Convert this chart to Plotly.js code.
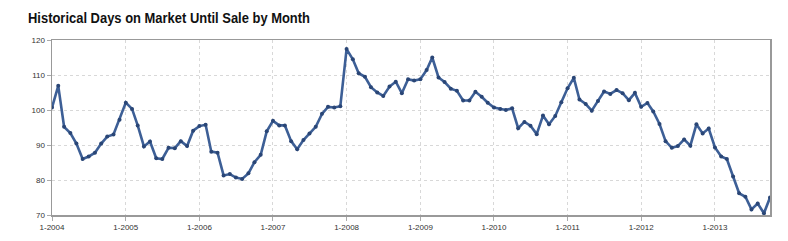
<!DOCTYPE html>
<html><head><meta charset="utf-8">
<script src="https://cdn.plot.ly/plotly-3.0.1.min.js"></script>
<style>html,body{margin:0;padding:0;background:#fff;}#chart{width:788px;height:241px;}</style>
</head><body><div id="chart"></div>
<script>
const startYear = 2004;
const daysOnMarket = [
 100.7,106.9,95.2,93.4,90.4,86.0,86.7,87.8,90.4,92.4,93.0,97.2,
 102.1,100.3,95.6,89.6,91.0,86.2,86.0,89.2,89.1,91.1,89.7,94.1,
 95.4,95.8,88.1,87.8,81.3,81.7,80.7,80.3,81.9,85.1,87.2,93.9,
 96.9,95.6,95.6,91.1,88.8,91.4,93.3,95.2,98.9,100.9,100.7,101.1,
 117.4,114.5,110.5,109.5,106.5,105.0,104.0,106.7,108.1,104.8,108.8,108.4,
 108.8,111.4,115.0,109.3,108.0,106.1,105.5,102.7,102.7,105.2,103.8,102.1,
 100.7,100.3,100.0,100.5,94.8,96.6,95.5,93.1,98.4,95.9,98.3,102.2,
 106.2,109.2,103.0,101.7,99.8,102.6,105.3,104.6,105.7,104.8,102.8,104.9,
 100.9,102.0,99.6,96.0,91.1,89.2,89.7,91.6,89.8,95.9,93.3,94.7,
 89.3,86.7,86.0,81.0,76.2,75.2,71.6,73.3,70.5,75.0
];
const yTicks = [70, 80, 90, 100, 110, 120];
const tickYears = [2004,2005,2006,2007,2008,2009,2010,2011,2012,2013];

const months = daysOnMarket.map((v, i) => {
  const y = startYear + Math.floor(i / 12);
  const m = (i % 12) + 1;
  return y + '-' + String(m).padStart(2, '0') + '-01';
});
const tickVals = tickYears.map(y => y + '-01-01');
const tickText = tickYears.map(y => '1-' + y);

const trace = {
  x: months, y: daysOnMarket, type: 'scatter', mode: 'lines+markers',
  line: {color: '#3d5f96', width: 2.6},
  marker: {color: '#2a4676', size: 4},
  hoverinfo: 'x+y'
};
const layout = {
  width: 788, height: 241,
  margin: {l: 52, r: 18, t: 40, b: 26, pad: 0},
  paper_bgcolor: '#fff', plot_bgcolor: '#fff',
  showlegend: false,
  title: {text: '<b>Historical Days on Market Until Sale by Month</b>',
    x: 28 / 788, xanchor: 'left', y: 1 - 17.5 / 241, yanchor: 'middle',
    font: {family: '"Liberation Sans", Arial, sans-serif', size: 15.5, color: '#111'}},
  xaxis: {
    type: 'date', range: [months[0], months[months.length - 1]],
    tickmode: 'array', tickvals: tickVals, ticktext: tickText,
    showgrid: true, gridcolor: '#d8d8d8', griddash: 'dot', gridwidth: 1,
    showline: true, linecolor: '#999', linewidth: 1.5, mirror: true,
    ticks: 'outside', ticklen: 4, tickcolor: '#aaa',
    tickfont: {family: 'Liberation Sans, Arial, sans-serif', size: 8, color: '#333'},
    zeroline: false
  },
  yaxis: {
    range: [70, 120], tickmode: 'array', tickvals: yTicks,
    showgrid: true, gridcolor: '#d8d8d8', griddash: 'dot', gridwidth: 1,
    showline: true, linecolor: '#999', linewidth: 1.5, mirror: true,
    ticks: 'outside', ticklen: 4, tickcolor: '#aaa',
    tickfont: {family: 'Liberation Sans, Arial, sans-serif', size: 8, color: '#333'},
    zeroline: false
  }
};
Plotly.newPlot('chart', [trace], layout, {displayModeBar: false, staticPlot: true}).then(() => {
  const t = document.querySelector('#chart .gtitle');
  if (t) {
    t.setAttribute('textLength', '282');
    t.setAttribute('lengthAdjust', 'spacingAndGlyphs');
  }
});
</script></body></html>
